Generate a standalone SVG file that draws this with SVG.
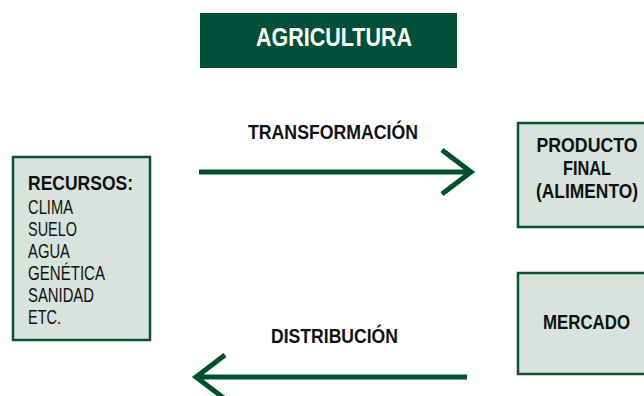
<svg xmlns="http://www.w3.org/2000/svg" width="644" height="396" viewBox="0 0 644 396">
<style>
.box{fill:#d7e3dd;stroke:#0d5234;stroke-width:2.5}
.b{font-family:"Liberation Sans",Arial,sans-serif;font-weight:bold;font-size:21px;fill:#111}
.r{font-family:"Liberation Sans",Arial,sans-serif;font-size:20.5px;fill:#111}
.arr{fill:none;stroke:#03502f;stroke-width:5}
</style>
<rect width="644" height="396" fill="#fff"/>
<g id="agricultura">
<rect x="200" y="13" width="257" height="55" fill="#03503a"/>
<text x="334" y="46" text-anchor="middle" textLength="156" lengthAdjust="spacingAndGlyphs" style="font-family:'Liberation Sans',Arial,sans-serif;font-weight:bold;font-size:25px;fill:#fff">AGRICULTURA</text>
</g>
<g id="recursos">
<rect class="box" x="13" y="157" width="137" height="183"/>
<text class="b" x="28" y="190" textLength="105" lengthAdjust="spacingAndGlyphs">RECURSOS:</text>
<text class="r" x="28" y="214" textLength="45" lengthAdjust="spacingAndGlyphs">CLIMA</text>
<text class="r" x="28" y="236" textLength="49" lengthAdjust="spacingAndGlyphs">SUELO</text>
<text class="r" x="28" y="258" textLength="42" lengthAdjust="spacingAndGlyphs">AGUA</text>
<text class="r" x="28" y="280" textLength="77" lengthAdjust="spacingAndGlyphs">GENÉTICA</text>
<text class="r" x="28" y="302" textLength="66" lengthAdjust="spacingAndGlyphs">SANIDAD</text>
<text class="r" x="28" y="324" textLength="33" lengthAdjust="spacingAndGlyphs">ETC.</text>
</g>
<g id="producto">
<rect class="box" x="518" y="123" width="140" height="104"/>
<text class="b" x="587" y="152" text-anchor="middle" textLength="101" lengthAdjust="spacingAndGlyphs">PRODUCTO</text>
<text class="b" x="587" y="175" text-anchor="middle" textLength="48" lengthAdjust="spacingAndGlyphs">FINAL</text>
<text class="b" x="587" y="198" text-anchor="middle" textLength="102" lengthAdjust="spacingAndGlyphs">(ALIMENTO)</text>
</g>
<g id="mercado">
<rect class="box" x="518" y="273" width="140" height="101"/>
<text class="b" x="586.5" y="329" text-anchor="middle" textLength="87" lengthAdjust="spacingAndGlyphs">MERCADO</text>
</g>
<g id="connectors">
<path class="arr" d="M199 172H470M442 150L471 172L442 194"/>
<text class="b" x="333" y="139" text-anchor="middle" textLength="170" lengthAdjust="spacingAndGlyphs">TRANSFORMACIÓN</text>
<path class="arr" d="M467 377H197M225 355L196 377L225 399"/>
<text class="b" x="334.5" y="343" text-anchor="middle" textLength="127" lengthAdjust="spacingAndGlyphs">DISTRIBUCIÓN</text>
</g>
</svg>
